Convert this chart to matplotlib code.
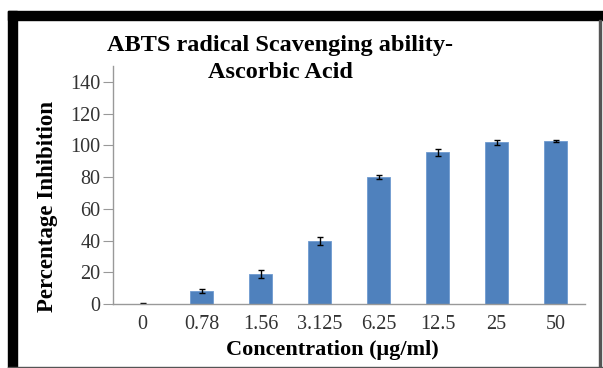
import matplotlib.pyplot as plt
import numpy as np
from matplotlib.patches import Rectangle

# concentrations (ug/ml) and % inhibition
conc = ['0', '0.78', '1.56', '3.125', '6.25', '12.5', '25', '50']
inhibition = [0.2, 8.3, 19, 40, 80, 95.5, 102, 102.6]
err = [0.2, 1.2, 2.5, 2.5, 1.0, 2.0, 1.5, 0.6]

plt.rcParams['font.family'] = ['Liberation Serif', 'DejaVu Serif']

fig = plt.figure(figsize=(6.03, 3.68), dpi=100)
ax = fig.add_axes([113/603, 64/368, 472/603, 238/368])

x = np.arange(len(conc))
ax.bar(x, inhibition, width=0.39, color='#4F81BD', edgecolor='#6f9bd0', linewidth=0.6,
       yerr=err, capsize=2.5, error_kw=dict(ecolor='black', elinewidth=1.0, capthick=1.0))

ax.set_xlim(-0.5, len(conc) - 0.5)
ax.set_ylim(0, 150)
ax.set_yticks(range(0, 141, 20))
ax.set_xticks(x)
ax.set_xticklabels(conc)
ax.tick_params(axis='y', length=7, color='#999999', labelsize=14.5, pad=2)
ax.tick_params(axis='x', length=0, labelsize=14.5, pad=8)
for lab in ax.get_xticklabels() + ax.get_yticklabels():
    lab.set_color('#333333')

for s in ['top', 'right']:
    ax.spines[s].set_visible(False)
for s in ['left', 'bottom']:
    ax.spines[s].set_color('#999999')
    ax.spines[s].set_linewidth(1.0)

fig.text(48/603, 1 - 206/368, 'Percentage Inhibition', rotation=90, ha='center', va='center',
         fontsize=16.5, fontweight='bold')
fig.text(332/603, 1 - 350/368, 'Concentration (μg/ml)', ha='center', va='center',
         fontsize=16, fontweight='bold')

fig.text(280/603, 1 - 45/368, 'ABTS radical Scavenging ability-', ha='center', va='center',
         fontsize=17.5, fontweight='bold')
fig.text(280/603, 1 - 73/368, 'Ascorbic Acid', ha='center', va='center',
         fontsize=17.5, fontweight='bold')

# black frame around the picture
fig.patches.append(Rectangle((8/603, 0), 9/603, 1 - 11/368, transform=fig.transFigure,
                             color='black', zorder=0))
fig.patches.append(Rectangle((8/603, 1 - 20/368), 1, 9/368, transform=fig.transFigure,
                             color='black', zorder=0))
fig.patches.append(Rectangle((599/603, 0), 1.5/603, 1 - 20/368, transform=fig.transFigure,
                             color='#555555', zorder=0))
fig.patches.append(Rectangle((8/603, 0), 1, 1.5/368, transform=fig.transFigure,
                             color='#555555', zorder=0))

fig.savefig('out.png', dpi=100)
